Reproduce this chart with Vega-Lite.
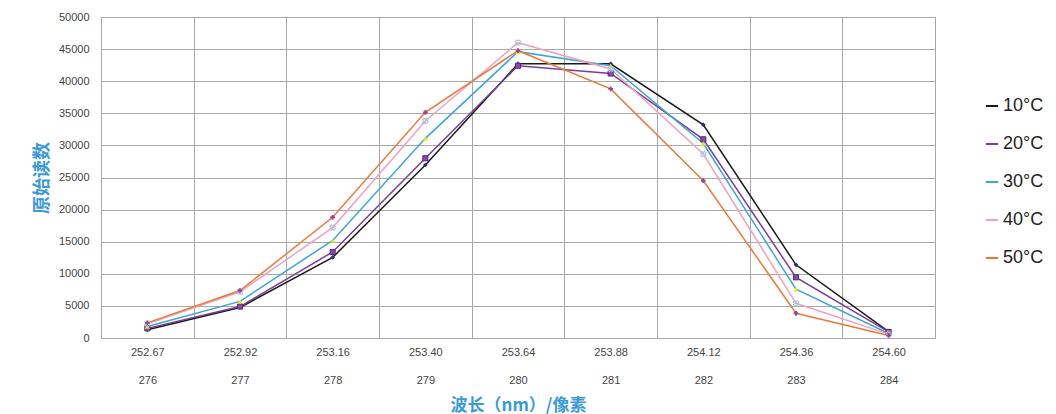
{
  "$schema": "https://vega.github.io/schema/vega-lite/v6.json",
  "width": 834,
  "height": 321,
  "autosize": {"type": "none"},
  "padding": {"left": 101, "top": 17, "right": 121, "bottom": 76},
  "background": "white",
  "config": {
    "view": {"stroke": "#a8a8a8", "strokeWidth": 1},
    "font": "Liberation Sans"
  },
  "data": {
    "values": [
      {"x": "252.67|276", "T": "10°C", "v": 1300},
      {"x": "252.92|277", "T": "10°C", "v": 4750},
      {"x": "253.16|278", "T": "10°C", "v": 12550},
      {"x": "253.40|279", "T": "10°C", "v": 26950},
      {"x": "253.64|280", "T": "10°C", "v": 42700},
      {"x": "253.88|281", "T": "10°C", "v": 42700},
      {"x": "254.12|282", "T": "10°C", "v": 33200},
      {"x": "254.36|283", "T": "10°C", "v": 11400},
      {"x": "254.60|284", "T": "10°C", "v": 1000},
      {"x": "252.67|276", "T": "20°C", "v": 1500},
      {"x": "252.92|277", "T": "20°C", "v": 4900},
      {"x": "253.16|278", "T": "20°C", "v": 13400},
      {"x": "253.40|279", "T": "20°C", "v": 28000},
      {"x": "253.64|280", "T": "20°C", "v": 42400},
      {"x": "253.88|281", "T": "20°C", "v": 41200},
      {"x": "254.12|282", "T": "20°C", "v": 30950},
      {"x": "254.36|283", "T": "20°C", "v": 9450},
      {"x": "254.60|284", "T": "20°C", "v": 950},
      {"x": "252.67|276", "T": "30°C", "v": 1800},
      {"x": "252.92|277", "T": "30°C", "v": 5700},
      {"x": "253.16|278", "T": "30°C", "v": 15200},
      {"x": "253.40|279", "T": "30°C", "v": 31100},
      {"x": "253.64|280", "T": "30°C", "v": 44600},
      {"x": "253.88|281", "T": "30°C", "v": 42400},
      {"x": "254.12|282", "T": "30°C", "v": 30300},
      {"x": "254.36|283", "T": "30°C", "v": 7600},
      {"x": "254.60|284", "T": "30°C", "v": 700},
      {"x": "252.67|276", "T": "40°C", "v": 2200},
      {"x": "252.92|277", "T": "40°C", "v": 7200},
      {"x": "253.16|278", "T": "40°C", "v": 17200},
      {"x": "253.40|279", "T": "40°C", "v": 33800},
      {"x": "253.64|280", "T": "40°C", "v": 46000},
      {"x": "253.88|281", "T": "40°C", "v": 41900},
      {"x": "254.12|282", "T": "40°C", "v": 28650},
      {"x": "254.36|283", "T": "40°C", "v": 5400},
      {"x": "254.60|284", "T": "40°C", "v": 600},
      {"x": "252.67|276", "T": "50°C", "v": 2350},
      {"x": "252.92|277", "T": "50°C", "v": 7400},
      {"x": "253.16|278", "T": "50°C", "v": 18800},
      {"x": "253.40|279", "T": "50°C", "v": 35150},
      {"x": "253.64|280", "T": "50°C", "v": 44750},
      {"x": "253.88|281", "T": "50°C", "v": 38800},
      {"x": "254.12|282", "T": "50°C", "v": 24500},
      {"x": "254.36|283", "T": "50°C", "v": 3850},
      {"x": "254.60|284", "T": "50°C", "v": 400}
    ]
  },
  "encoding": {
    "x": {
      "field": "x",
      "type": "nominal",
      "sort": null,
      "scale": {"paddingInner": 0, "paddingOuter": 0},
      "axis": {
        "title": "波长（nm）/像素",
        "titleFont": "Noto Sans CJK SC",
        "titleFontWeight": "bold",
        "titleFontSize": 17,
        "titleColor": "#3a9ad9",
        "titleBaseline": "middle",
        "titleY": 67,
        "labelExpr": "split(datum.label, '|')",
        "labelAngle": 0,
        "labelFontSize": 11,
        "labelColor": "#444444",
        "labelLineHeight": 28,
        "labelPadding": 8,
        "ticks": false,
        "domain": false,
        "grid": true,
        "tickBand": "extent",
        "gridColor": "#a8a8a8",
        "gridWidth": 1
      }
    },
    "y": {
      "field": "v",
      "type": "quantitative",
      "scale": {"domain": [0, 50000]},
      "axis": {
        "title": "原始读数",
        "titleFont": "Noto Sans CJK SC",
        "titleFontWeight": "bold",
        "titleFontSize": 18,
        "titleColor": "#3a9ad9",
        "titleX": -50,
        "values": [0, 5000, 10000, 15000, 20000, 25000, 30000, 35000, 40000, 45000, 50000],
        "format": "d",
        "labelFontSize": 11,
        "labelColor": "#444444",
        "labelPadding": 12,
        "ticks": false,
        "domain": false,
        "grid": true,
        "gridColor": "#a8a8a8",
        "gridWidth": 1
      }
    }
  },
  "layer": [
    {
      "mark": {"type": "line", "strokeWidth": 1.5},
      "encoding": {
        "color": {
          "field": "T",
          "type": "nominal",
          "scale": {
            "domain": ["10°C", "20°C", "30°C", "40°C", "50°C"],
            "range": ["#1a1a1a", "#7a3d9a", "#3ea4d8", "#f2a2bc", "#e87a3c"]
          },
          "legend": {
            "title": null,
            "orient": "none",
            "legendX": 882,
            "legendY": 80,
            "symbolType": "stroke",
            "symbolStrokeWidth": 2,
            "symbolSize": 150,
            "labelFontSize": 18,
            "labelColor": "#222222",
            "labelFont": "Liberation Sans",
            "rowPadding": 20,
            "labelOffset": 2
          }
        }
      }
    },
    {
      "transform": [{"filter": "datum.T == '10°C'"}],
      "mark": {"type": "point", "filled": true, "size": 22, "shape": "diamond", "color": "#2a2a80", "opacity": 1}
    },
    {
      "transform": [{"filter": "datum.T == '20°C'"}],
      "mark": {"type": "point", "filled": true, "size": 26, "shape": "square", "color": "#8a4aa8", "stroke": "#5a2a78", "strokeWidth": 1, "opacity": 1}
    },
    {
      "transform": [{"filter": "datum.T == '30°C'"}],
      "mark": {"type": "point", "filled": true, "size": 26, "shape": "triangle-up", "color": "#e6e61a", "opacity": 1}
    },
    {
      "transform": [{"filter": "datum.T == '40°C'"}],
      "mark": {"type": "point", "filled": false, "size": 30, "shape": "cross", "color": "#9ec4e4", "strokeWidth": 1, "angle": 45, "opacity": 1}
    },
    {
      "transform": [{"filter": "datum.T == '50°C'"}],
      "mark": {"type": "point", "filled": true, "size": 22, "shape": "cross", "color": "#a04090", "opacity": 1}
    }
  ]
}
